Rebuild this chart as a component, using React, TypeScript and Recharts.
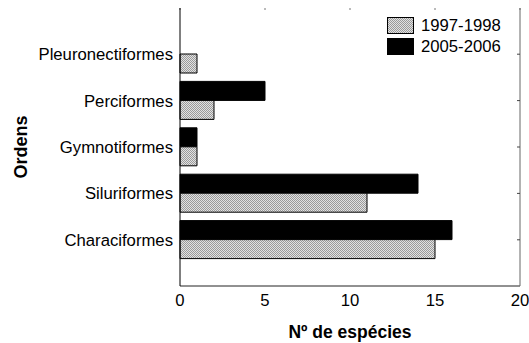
import React from 'react';
import { BarChart, Bar, XAxis, YAxis } from 'recharts';

const categories = ['Pleuronectiformes', 'Perciformes', 'Gymnotiformes', 'Siluriformes', 'Characiformes'];
const values19971998 = [1, 2, 1, 11, 15];
const values20052006 = [0, 5, 1, 14, 16];
const xTicks = [0, 5, 10, 15, 20];
const seriesNames = ['1997-1998', '2005-2006'];

const data = categories.map((name, i) => ({
  name,
  a: values19971998[i],
  b: values20052006[i],
}));

const FONT = 'Liberation Sans, Arial, sans-serif';

const LegendBox = () => (
  <div style={{ position: 'absolute', left: 387, top: 15, fontFamily: FONT, fontSize: 16.7, color: '#000' }}>
    {seriesNames.map((n, i) => (
      <div key={n} style={{ display: 'flex', alignItems: 'center', height: 21 }}>
        <svg width={28} height={17} style={{ marginRight: 6 }}>
          <rect x={0.5} y={0.5} width={26} height={16} fill={i === 0 ? 'url(#dots)' : '#000'} stroke="#000" strokeWidth={1} />
        </svg>
        <span>{n}</span>
      </div>
    ))}
  </div>
);

export default function App() {
  return (
    <div style={{ position: 'absolute', left: 0, top: 0, width: 529, height: 343, background: '#fff' }}>
      <BarChart
        width={529}
        height={343}
        data={data}
        layout="vertical"
        margin={{ top: 8, right: 9, bottom: 0, left: 0 }}
        barCategoryGap={4}
        barGap={0}
      >
        <defs>
          <pattern id="dots" width="2" height="2" patternUnits="userSpaceOnUse">
            <rect width="2" height="2" fill="#e2e2e2" />
            <rect x="0" y="0" width="1" height="1" fill="#9a9a9a" />
            <rect x="1" y="1" width="1" height="1" fill="#9a9a9a" />
          </pattern>
        </defs>
        <XAxis
          type="number"
          domain={[0, 20]}
          ticks={xTicks}
          height={57}
          axisLine={{ stroke: '#222', strokeWidth: 1 }}
          tickLine={false}
          tickSize={6}
          tickMargin={2}
          tick={{ fill: '#000', fontSize: 16.7, fontFamily: FONT }}
          label={{ value: 'Nº de espécies', position: 'insideBottom', offset: 5, style: { fill: '#000', fontSize: 17.5, fontWeight: 'bold', fontFamily: FONT } }}
        />
        <XAxis
          xAxisId="top"
          orientation="top"
          type="number"
          domain={[0, 20]}
          ticks={xTicks}
          height={1}
          mirror
          axisLine={false}
          tickLine={{ stroke: '#777' }}
          tickSize={2}
          tickFormatter={() => ''}
        />
        <YAxis
          type="category"
          dataKey="name"
          width={180}
          padding={{ top: 23, bottom: 23 }}
          axisLine={{ stroke: '#000', strokeWidth: 1 }}
          tickLine={false}
          tickSize={5}
          tickMargin={2}
          tick={{ fill: '#000', fontSize: 16.7, fontFamily: FONT }}
          label={{ value: 'Ordens', angle: -90, position: 'insideLeft', offset: 21, style: { textAnchor: 'middle', fill: '#000', fontSize: 18, fontWeight: 'bold', fontFamily: FONT } }}
        />
        <YAxis
          yAxisId="right"
          orientation="right"
          type="category"
          dataKey="name"
          width={1}
          mirror
          padding={{ top: 23, bottom: 23 }}
          axisLine={{ stroke: '#666', strokeWidth: 1 }}
          tickLine={{ stroke: '#444' }}
          tickSize={3}
          tickFormatter={() => ''}
        />
        <Bar dataKey="b" name={seriesNames[1]} fill="#000" stroke="#000" strokeWidth={1} isAnimationActive={false} />
        <Bar dataKey="a" name={seriesNames[0]} fill="url(#dots)" stroke="#000" strokeWidth={1} isAnimationActive={false} />
        <Bar dataKey="a" xAxisId="top" yAxisId="right" fill="none" stroke="none" fillOpacity={0} legendType="none" isAnimationActive={false} />
      </BarChart>
      <LegendBox />
    </div>
  );
}
